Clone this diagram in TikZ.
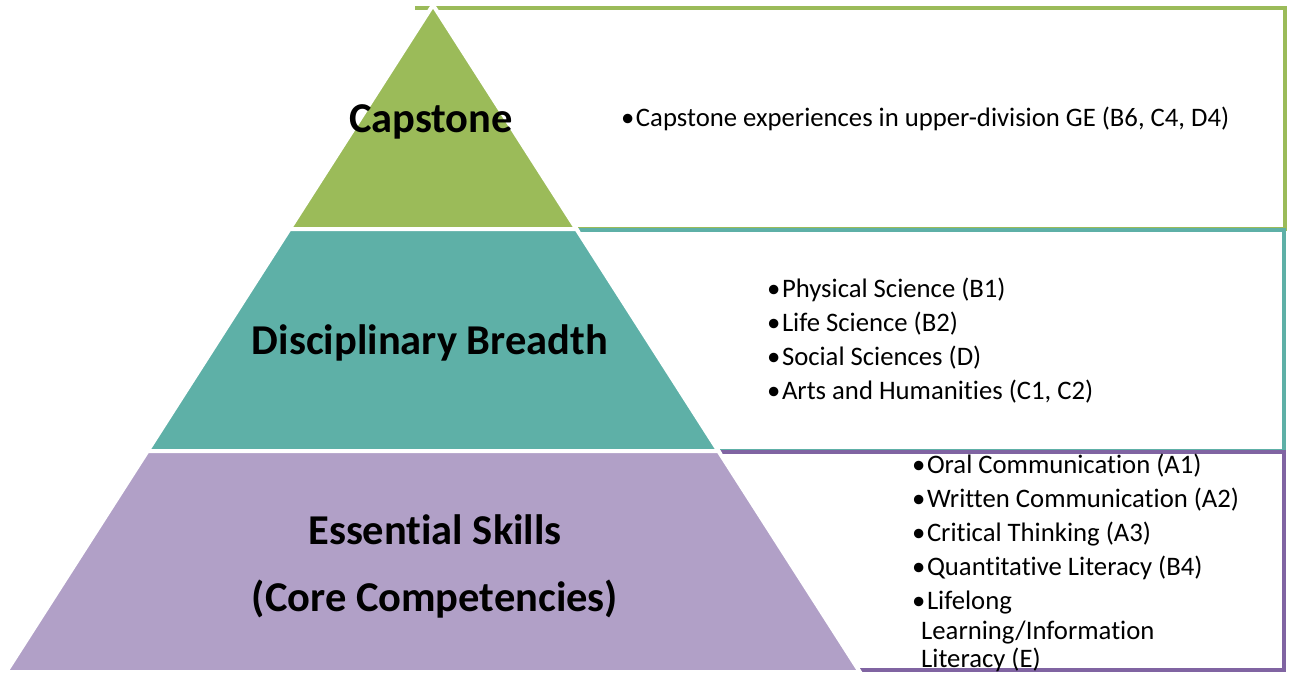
\documentclass[tikz,border=0pt]{standalone}
\usepackage{fontspec}
\setmainfont{Carlito}[Ligatures=NoCommon]
\definecolor{capg}{HTML}{9BBB59}
\definecolor{disct}{HTML}{5EB0A7}
\definecolor{essp}{HTML}{B1A0C7}
\definecolor{essline}{HTML}{8064A2}
\newcommand{\bul}{•\kern1.5pt}
\begin{document}
\begin{tikzpicture}[x=1pt,y=-1pt,
  box/.style={line width=3.5pt, line join=miter},
  seg/.style={draw=white, line width=4pt, line join=miter},
  title/.style={font=\fontsize{42.5}{50}\selectfont\bfseries, text=black, anchor=base, inner sep=0pt},
  item/.style={font=\fontsize{26.7}{32}\selectfont, text=black, anchor=base west, inner sep=0pt}]
\useasboundingbox (0,0) rectangle (1290,673);
% background boxes (left edges hidden behind the pyramid)
\draw[box, draw=capg] (415,8) -- (1285,8) -- (1285,229) -- (415,229);
\draw[box, draw=disct] (570,230) -- (1284,230) -- (1284,451) -- (570,451);
\draw[box, draw=essline] (720,452) -- (1284,452) -- (1284,670) -- (720,670);
% pyramid segments
\fill[capg] (433,5) -- (576.4,229) -- (289.6,229) -- cycle;
\draw[seg] (433,5) -- (576.4,229) -- (289.6,229) -- cycle;
\fill[disct] (289.6,229) -- (576.4,229) -- (718.4,451) -- (147.6,451) -- cycle;
\draw[seg] (289.6,229) -- (576.4,229) -- (718.4,451) -- (147.6,451) -- cycle;
\fill[essp] (147.6,451) -- (718.4,451) -- (859.9,672) -- (6.1,672) -- cycle;
\draw[seg] (147.6,451) -- (718.4,451) -- (859.9,672) -- (6.1,672) -- cycle;
% titles
\node[title] (tcap) at (431,132) {Capstone};
\node[title] (tdisc) at (430,354) {Disciplinary Breadth};
\node[title] (tess1) at (435,544) {Essential Skills};
\node[title] (tess2) at (435,611) {(Core Competencies)};
% lists
\node[item] (c1) at (621,126) {\bul Capstone experiences in upper-division GE (B6, C4, D4)};
\node[item] (d1) at (767,297) {\bul Physical Science (B1)};
\node[item] (d2) at (767,331) {\bul Life Science (B2)};
\node[item] (d3) at (767,365) {\bul Social Sciences (D)};
\node[item] (d4) at (767,399) {\bul Arts and Humanities (C1, C2)};
\node[item] (e1) at (912,473) {\bul Oral Communication (A1)};
\node[item] (e2) at (912,507) {\bul Written Communication (A2)};
\node[item] (e3) at (912,541) {\bul Critical Thinking (A3)};
\node[item] (e4) at (912,575) {\bul Quantitative Literacy (B4)};
\node[item] (e5) at (912,609) {\bul Lifelong};
\node[item] (e6) at (921,639) {Learning/Information};
\node[item] (e7) at (921,667) {Literacy (E)};
\end{tikzpicture}
\end{document}
